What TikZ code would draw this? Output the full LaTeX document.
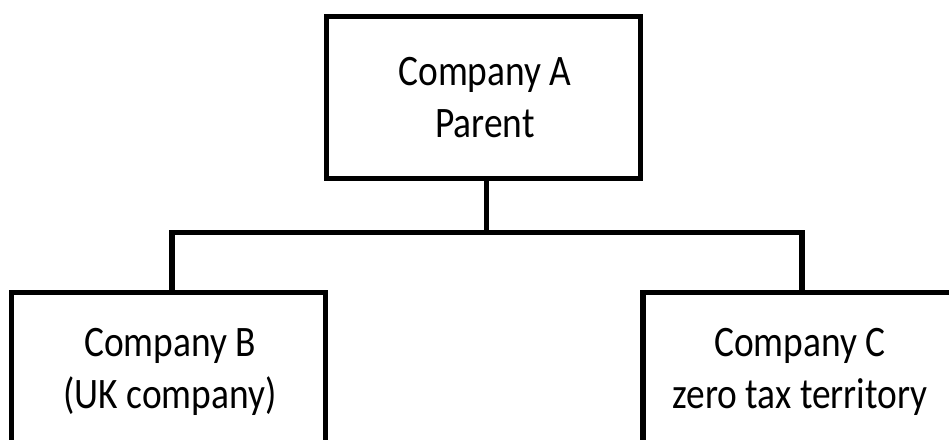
\documentclass[tikz,border=0pt]{standalone}
\usepackage{fontspec}
\setmainfont{Carlito}
\begin{document}
\begin{tikzpicture}[x=1pt,y=-1pt,
  box/.style={draw=black,line width=5.2pt,rectangle,inner sep=0pt,
    minimum width=314pt,fill=none},
  wire/.style={draw=black,line width=5.2pt,line join=miter},
  label/.style={align=center,anchor=north,inner sep=0pt,xscale=0.86,
    font=\fontsize{43.5pt}{52pt}\selectfont}]
  \useasboundingbox (0,0) rectangle (949,439);
  \clip (0,0) rectangle (949,439);

  % parent company box
  \node[box,minimum height=162pt] (a) at (483.5,97.5) {};
  \node[label] (ta) at (485,57) {Company A\\Parent};

  % subsidiaries, running off the lower edge
  \node[box,minimum height=260pt,anchor=north] (b) at (168.75,289.5) {};
  \node[label] (tb) at (170,328.5) {Company B\\(UK company)};
  \node[box,minimum height=260pt,anchor=north] (c) at (800,289.5) {};
  \node[label] (tc) at (800,328.5) {Company C\\zero tax territory};

  % ownership tree
  \coordinate (bus) at (486.5,232.5);
  \draw[wire] ([xshift=3pt]a.south) -- (bus);
  \draw[wire] ([xshift=3.25pt]b.north) |- (bus) -| ([xshift=2pt]c.north);
\end{tikzpicture}
\end{document}
